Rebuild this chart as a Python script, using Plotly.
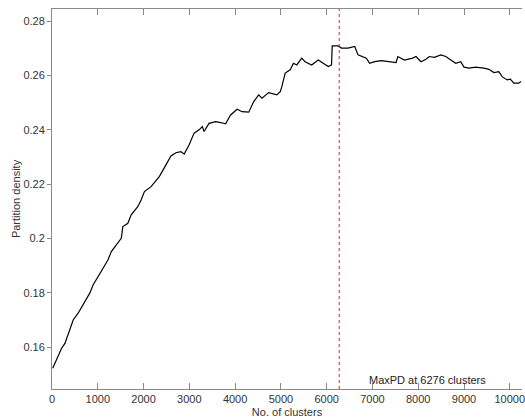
import plotly.graph_objects as go

clusters = [15, 100, 210, 282, 354, 463, 571, 680, 825, 897, 1005, 1114, 1222, 1296, 1404,
            1513, 1548, 1657, 1730, 1873, 1947, 2019, 2164, 2273, 2344, 2489, 2598, 2707,
            2815, 2887, 2996, 3104, 3213, 3284, 3321, 3430, 3575, 3684, 3792, 3901, 4044,
            4152, 4298, 4406, 4515, 4587, 4732, 4912, 4986, 5021, 5094, 5203, 5275, 5347,
            5455, 5528, 5672, 5817, 5926, 6034, 6106, 6121, 6251, 6323, 6468, 6613, 6685,
            6794, 6866, 6939, 7048, 7192, 7337, 7517, 7554, 7699, 7879, 7951, 8060, 8169,
            8242, 8350, 8494, 8603, 8711, 8820, 8928, 9001, 9110, 9253, 9435, 9544, 9653,
            9761, 9833, 9942, 10013, 10087, 10195, 10245]
density = [0.1522, 0.1553, 0.1596, 0.1614, 0.1651, 0.1700, 0.1725, 0.1756, 0.1799, 0.1829,
           0.1860, 0.1891, 0.1921, 0.1952, 0.1976, 0.2001, 0.2044, 0.2056, 0.2087, 0.2117,
           0.2142, 0.2173, 0.2191, 0.2216, 0.2228, 0.2271, 0.2304, 0.2316, 0.2320, 0.2311,
           0.2345, 0.2388, 0.2400, 0.2412, 0.2394, 0.2424, 0.2430, 0.2427, 0.2422, 0.2455,
           0.2476, 0.2467, 0.2465, 0.2504, 0.2529, 0.2517, 0.2537, 0.2529, 0.2541, 0.2559,
           0.2609, 0.2621, 0.2645, 0.2639, 0.2664, 0.2651, 0.2639, 0.2657, 0.2645, 0.2633,
           0.2639, 0.2709, 0.2709, 0.2701, 0.2701, 0.2707, 0.2676, 0.2670, 0.2664, 0.2645,
           0.2651, 0.2655, 0.2651, 0.2648, 0.2670, 0.2657, 0.2664, 0.2670, 0.2651, 0.2660,
           0.2670, 0.2667, 0.2676, 0.2670, 0.2657, 0.2645, 0.2651, 0.2631, 0.2627, 0.2631,
           0.2627, 0.2623, 0.2611, 0.2614, 0.2596, 0.2584, 0.2587, 0.2572, 0.2572, 0.2578]

max_pd_clusters = 6276
x_ticks = [0, 1000, 2000, 3000, 4000, 5000, 6000, 7000, 8000, 9000, 10000]
x_tick_labels = ["0", "1000", "2000", "3000", "4000", "5000", "6000", "7000", "8000",
                 "9000", "10000"]
y_ticks = [0.16, 0.18, 0.20, 0.22, 0.24, 0.26, 0.28]
y_tick_labels = ["0.16", "0.18", "0.2", "0.22", "0.24", "0.26", "0.28"]

fig = go.Figure()
fig.add_trace(go.Scatter(x=clusters, y=density, mode="lines",
                         line=dict(color="black", width=1.2), showlegend=False,
                         hoverinfo="skip"))
fig.add_shape(type="line", xref="x", yref="paper", x0=max_pd_clusters, x1=max_pd_clusters,
              y0=0, y1=1, line=dict(color="rgba(255,0,0,0.75)", width=1.2, dash="dot"))
fig.add_annotation(x=8205, y=0.1446, xref="x", yref="y", yanchor="bottom", yshift=1,
                   text=f"MaxPD at {max_pd_clusters} clusters", showarrow=False,
                   font=dict(family="Liberation Sans, Arial", size=11, color="#222"))

fig.update_layout(
    width=525, height=418,
    margin=dict(l=52, r=0, t=9, b=29),
    paper_bgcolor="white", plot_bgcolor="white",
    font=dict(family="Liberation Sans, Arial", size=11, color="#333"),
    xaxis=dict(range=[0, 10267], tickvals=x_ticks, ticktext=x_tick_labels,
               ticks="inside", ticklen=6, ticklabeloverflow="allow",
               tickcolor="#888", showline=True, linecolor="#888", linewidth=1,
               mirror="ticks", showgrid=False, zeroline=False,
               title=dict(text="No. of clusters", standoff=5, font=dict(size=11))),
    yaxis=dict(range=[0.1446, 0.2845], tickvals=y_ticks, ticktext=y_tick_labels,
               ticks="outside", ticklen=4, tickcolor="#888", showline=True,
               linecolor="#888", linewidth=1, showgrid=False, zeroline=False,
               title=dict(text="Partition density", standoff=0, font=dict(size=11))),
)

fig.write_html("out.html", config={"displayModeBar": False},
               post_script="document.body.style.margin='0';document.body.style.overflow='hidden';")
